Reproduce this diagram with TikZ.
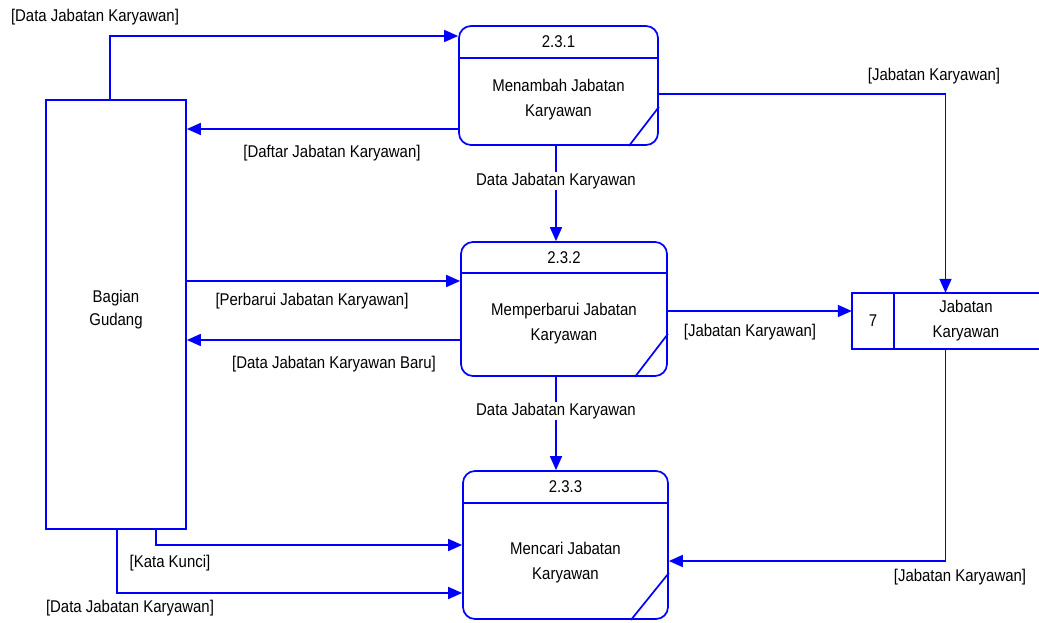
\documentclass[tikz,border=0pt]{standalone}
\usepackage{fontspec}
\setmainfont{Liberation Sans}[FakeStretch=0.88]
\usetikzlibrary{arrows.meta}
\definecolor{dfdblue}{RGB}{0,0,255}
\tikzset{
  lbl/.style={font=\fontsize{17}{25}\selectfont, text=black, inner sep=1pt, align=center},
  proc/.style={draw=dfdblue, line width=1.7pt, rounded corners=12pt, fill=white},
  ent/.style={draw=dfdblue, line width=1.7pt, fill=white},
  flow/.style={draw=dfdblue, line width=1.7pt, -{Triangle[length=14pt,width=12pt]}},
  edge/.style={draw=dfdblue, line width=1.7pt},
}
\begin{document}
\begin{tikzpicture}[x=1pt,y=-1pt]
\useasboundingbox (0,0) rectangle (1039,623);

% external entity
\node[ent, minimum width=140pt, minimum height=429pt, inner sep=0pt] (bg) at (116,314.5) {};
\node[lbl, font=\fontsize{17}{23}\selectfont] (bgt) at (116,310) {Bagian\\Gudang};

% processes
\node[proc, minimum width=199pt, minimum height=119pt, inner sep=0pt] (p1) at (558.5,85.5) {};
\node[proc, minimum width=206pt, minimum height=134pt, inner sep=0pt] (p2) at (564,309) {};
\node[proc, minimum width=205pt, minimum height=148pt, inner sep=0pt] (p3) at (565.5,545) {};

\draw[edge] (p1.west |- 0,58) -- (p1.east |- 0,58);
\draw[edge] (p2.west |- 0,273) -- (p2.east |- 0,273);
\draw[edge] (p3.west |- 0,503) -- (p3.east |- 0,503);
\draw[edge] (p1.east |- 0,107) -- (629,0 |- p1.south);
\draw[edge] (p2.east |- 0,334) -- (635,0 |- p2.south);
\draw[edge] (p3.east |- 0,573) -- (631,0 |- p3.south);

\node[lbl] (p1n) at (558.5,42) {2.3.1};
\node[lbl] (p2n) at (564,257.5) {2.3.2};
\node[lbl] (p3n) at (565.5,487) {2.3.3};
\node[lbl] (p1t) at (558.5,100) {Menambah Jabatan\\Karyawan};
\node[lbl] (p2t) at (564,324) {Memperbarui Jabatan\\Karyawan};
\node[lbl] (p3t) at (565.5,563) {Mencari Jabatan\\Karyawan};

% data store
\node[minimum width=187pt, minimum height=56pt, inner sep=0pt] (st) at (945.5,321) {};
\draw[edge] (st.north east) -- (st.north west) -- (st.south west) -- (st.south east);
\draw[edge] (894,0 |- st.north) -- (894,0 |- st.south);
\node[lbl] (stn) at (873,321) {7};
\node[lbl] (stt) at (966,321) {Jabatan\\Karyawan};

% flows
\draw[flow] (110,0 |- bg.north) |- (p1.west |- 0,36);
\draw[flow] (p1.west |- 0,129) -- (bg.east |- 0,129);
\draw[flow] (556,0 |- p1.south) -- (556,0 |- p2.north);
\draw[flow] (p1.east |- 0,94) -| (st.north);
\draw[flow] (bg.east |- 0,281) -- (p2.west |- 0,281);
\draw[flow] (p2.west |- 0,340) -- (bg.east |- 0,340);
\draw[flow] (p2.east |- 0,311) -- (st.west |- 0,311);
\draw[flow] (556,0 |- p2.south) -- (556,0 |- p3.north);
\draw[flow] (156,0 |- bg.south) |- (p3.west |- 0,545);
\draw[flow] (117,0 |- bg.south) |- (p3.west |- 0,593);
\draw[flow] (st.south) |- (p3.east |- 0,561);

% labels
\node[lbl] (l1) at (95,17) {[Data Jabatan Karyawan]};
\node[lbl] (l2) at (332,153) {[Daftar Jabatan Karyawan]};
\node[lbl, fill=white] (l3) at (556,181) {Data Jabatan Karyawan};
\node[lbl] (l4) at (934,76) {[Jabatan Karyawan]};
\node[lbl] (l5) at (312,301) {[Perbarui Jabatan Karyawan]};
\node[lbl] (l6) at (334,364) {[Data Jabatan Karyawan Baru]};
\node[lbl] (l7) at (750,332) {[Jabatan Karyawan]};
\node[lbl, fill=white] (l8) at (556,411) {Data Jabatan Karyawan};
\node[lbl] (l9) at (170,563) {[Kata Kunci]};
\node[lbl] (l10) at (130,608) {[Data Jabatan Karyawan]};
\node[lbl] (l11) at (960,577) {[Jabatan Karyawan]};
\end{tikzpicture}
\end{document}
